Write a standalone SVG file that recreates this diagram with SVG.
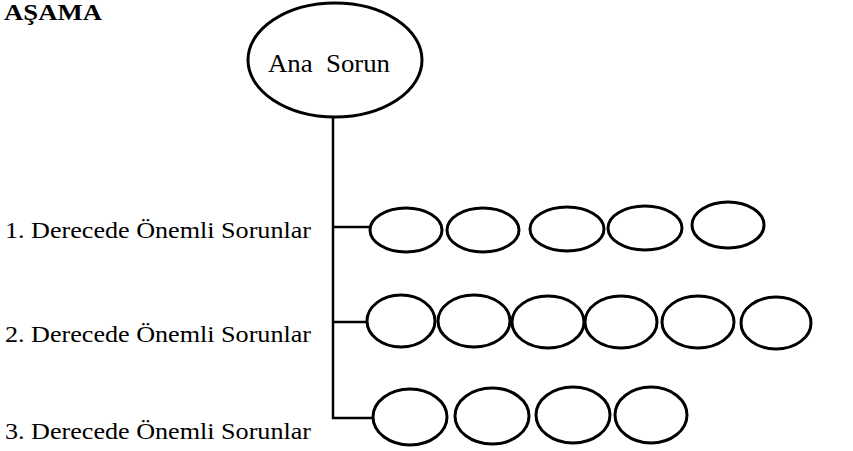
<svg xmlns="http://www.w3.org/2000/svg" width="853" height="451" viewBox="0 0 853 451">
<style>
.t{font-family:"Liberation Serif","Times New Roman","DejaVu Serif",serif;fill:#000}
.h{font-weight:bold;font-size:23px}
.l{font-size:23px}
.a{font-size:25px}
.n{fill:none;stroke:#000;stroke-width:3}
.c{fill:none;stroke:#000;stroke-width:2.5}
</style>
<rect width="853" height="451" fill="#fff"/>
<text class="t h" x="4" y="20" textLength="98" lengthAdjust="spacingAndGlyphs">AŞAMA</text>
<g id="ana-sorun">
<ellipse class="n" cx="335" cy="60" rx="87" ry="57"/>
<text class="t a" x="268" y="72" textLength="122" lengthAdjust="spacingAndGlyphs" xml:space="preserve">Ana  Sorun</text>
</g>
<g id="connectors">
<path class="c" d="M333,117 V418 H373 M333,227 H370 M333,322 H367"/>
</g>
<text class="t l" x="5" y="238" textLength="306" lengthAdjust="spacingAndGlyphs">1. Derecede Önemli Sorunlar</text>
<text class="t l" x="5" y="342" textLength="306" lengthAdjust="spacingAndGlyphs">2. Derecede Önemli Sorunlar</text>
<text class="t l" x="5" y="439" textLength="306" lengthAdjust="spacingAndGlyphs">3. Derecede Önemli Sorunlar</text>
<g id="row1">
<ellipse id="r1n1" class="n" cx="406" cy="230" rx="36" ry="22"/>
<ellipse id="r1n2" class="n" cx="483" cy="230" rx="36" ry="22"/>
<ellipse id="r1n3" class="n" cx="567" cy="229" rx="37" ry="22"/>
<ellipse id="r1n4" class="n" cx="645" cy="228" rx="37" ry="22"/>
<ellipse id="r1n5" class="n" cx="728" cy="225" rx="36" ry="23"/>
</g>
<g id="row2">
<ellipse id="r2n1" class="n" cx="401" cy="321" rx="34" ry="26"/>
<ellipse id="r2n2" class="n" cx="474" cy="321" rx="36" ry="26"/>
<ellipse id="r2n3" class="n" cx="548" cy="322" rx="36" ry="26"/>
<ellipse id="r2n4" class="n" cx="621" cy="322" rx="36" ry="26"/>
<ellipse id="r2n5" class="n" cx="698" cy="322" rx="36" ry="26"/>
<ellipse id="r2n6" class="n" cx="776" cy="323" rx="35" ry="26"/>
</g>
<g id="row3">
<ellipse id="r3n1" class="n" cx="410" cy="417" rx="37" ry="28"/>
<ellipse id="r3n2" class="n" cx="492" cy="416" rx="37" ry="28"/>
<ellipse id="r3n3" class="n" cx="573" cy="415" rx="37" ry="28"/>
<ellipse id="r3n4" class="n" cx="651" cy="415" rx="36" ry="28"/>
</g>
</svg>
